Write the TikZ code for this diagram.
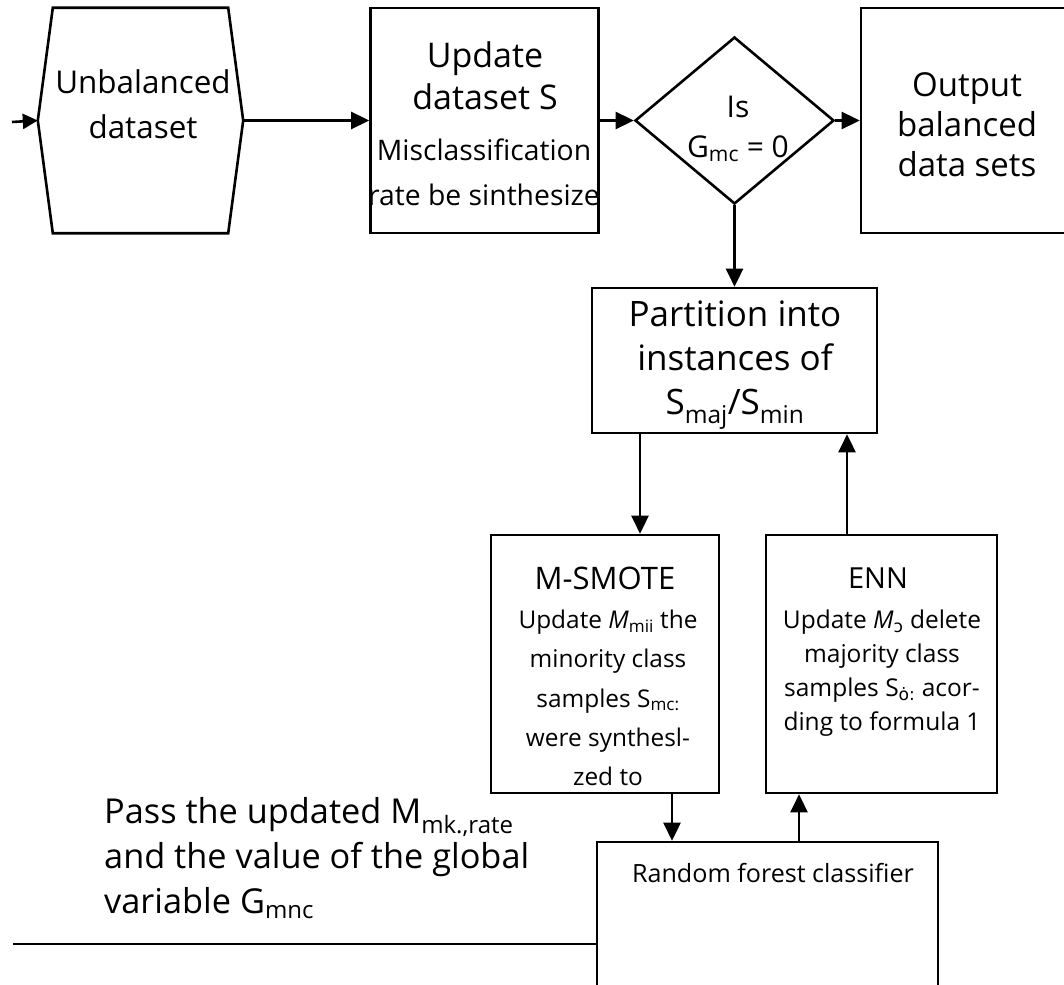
\documentclass[tikz,border=0pt]{standalone}
\usepackage{fontspec}
\setmainfont{Open Sans}
\newfontfamily\dejavu{DejaVu Sans}
\usetikzlibrary{arrows.meta,shapes.geometric}
\newcommand{\fsz}[2]{\fontsize{#1}{#2}\selectfont}
\begin{document}
\begin{tikzpicture}[x=1pt,y=-1pt,
  ln/.style={line width=2.6pt},
  bx/.style={draw, line width=2.6pt, inner sep=0pt},
  arr/.style={line width=2.6pt, -{Triangle[length=18pt,width=17pt]}},
  arrs/.style={line width=2.6pt, -{Triangle[length=15pt,width=15pt]}},
  txt/.style={align=center, inner sep=0pt, text=black}]
\useasboundingbox (0,0) rectangle (1064,984);
\fill[white] (0,0) rectangle (1064,984);

% hexagon
\node[inner sep=0pt, minimum width=205, minimum height=225] (hex) at (140.5,120.5) {};
\draw[ln, line join=miter] ([xshift=15pt]hex.north west) -- ([xshift=-15pt]hex.north east) -- (hex.east)
  -- ([xshift=-15pt]hex.south east) -- ([xshift=15pt]hex.south west) -- (hex.west) -- cycle;
\node[txt, font=\fsz{31.4}{45}] (hext) at (143,104) {Unbalanced\\dataset};

% update box
\node[bx, minimum width=228, minimum height=225] (upd) at (484.5,120.5) {};
\node[txt, font=\fsz{34}{42}] (updt1) at (485,76) {Update\\dataset S};
\node[txt, font=\fsz{28.3}{45}] (updt2) at (484,172) {Misclassification\\rate be sinthesize};

% diamond
\node[draw, diamond, ln, inner sep=0pt, minimum width=199, minimum height=167] (dia) at (734.5,120.5) {};
\node[txt, font=\fsz{30}{40}] (diat) at (738,129) {Is\\G\textsubscript{mc} = 0};

% output
\node[bx, minimum width=212, minimum height=225] (out) at (967,120.5) {};
\node[txt, font=\fsz{33}{40}] (outt) at (967,125) {Output\\balanced\\data sets};

% partition
\node[bx, minimum width=285, minimum height=145] (part) at (734.5,360.5) {};
\node[txt, font=\fsz{35}{44}] (partt) at (735,365) {Partition into\\instances of\\S\textsubscript{maj}/S\textsubscript{min}};

% M-SMOTE
\node[bx, minimum width=228, minimum height=258] (sm) at (605,664) {};
\node[txt, font=\fsz{31}{36}] (smt1) at (605,578) {M-SMOTE};
\node[txt, font=\fsz{24.4}{39.3}] (smt2) at (608,698) {Update \textit{M}\textsubscript{mii} the\\minority class\\samples S\textsubscript{mc:}\\were synthesl-\\zed to};

% ENN
\node[bx, minimum width=231, minimum height=258] (enn) at (881.5,664) {};
\node[txt, font=\fsz{29}{34}] (ennt1) at (878,578) {ENN};
\node[txt, font=\fsz{24.5}{34}] (ennt2) at (882,673) {Update \textit{M}\textsubscript{\dejavu ɔ} delete\\majority class\\samples S\textsubscript{\dejavu ȯ:} acor-\\ding to formula 1};

% random forest
\node[bx, minimum width=341, minimum height=158] (rf) at (767.5,921) {};
\node[txt, font=\fsz{25.1}{30}] (rft) at (773,873) {Random forest classifier};

% pass text
\node[txt, align=left, anchor=west, font=\fsz{34.3}{45}] (pass) at (104,858) {Pass the updated M\textsubscript{mk.,rate}\\and the value of the global\\variable G\textsubscript{mnc}};

% horizontal line
\coordinate (lst) at (13,944);
\draw[ln] (lst) -- (lst -| rf.west);

% arrows
\coordinate (in) at (12,122);
\draw[arrs] (in) -- (hex.west);
\draw[arr] (hex.east) -- (upd.west);
\draw[arr] (upd.east) -- (dia.west);
\draw[arr] (dia.east) -- (out.west);
\draw[arr] (dia.south) -- (part.north);
\coordinate (c1) at (640,0);
\draw[arr] (part.south -| c1) -- (sm.north -| c1);
\coordinate (c2) at (847,0);
\draw[arr] (enn.north -| c2) -- (part.south -| c2);
\coordinate (c3) at (672,0);
\draw[arr] (sm.south -| c3) -- (rf.north -| c3);
\coordinate (c4) at (799,0);
\draw[arr] (rf.north -| c4) -- (enn.south -| c4);
\end{tikzpicture}
\end{document}
